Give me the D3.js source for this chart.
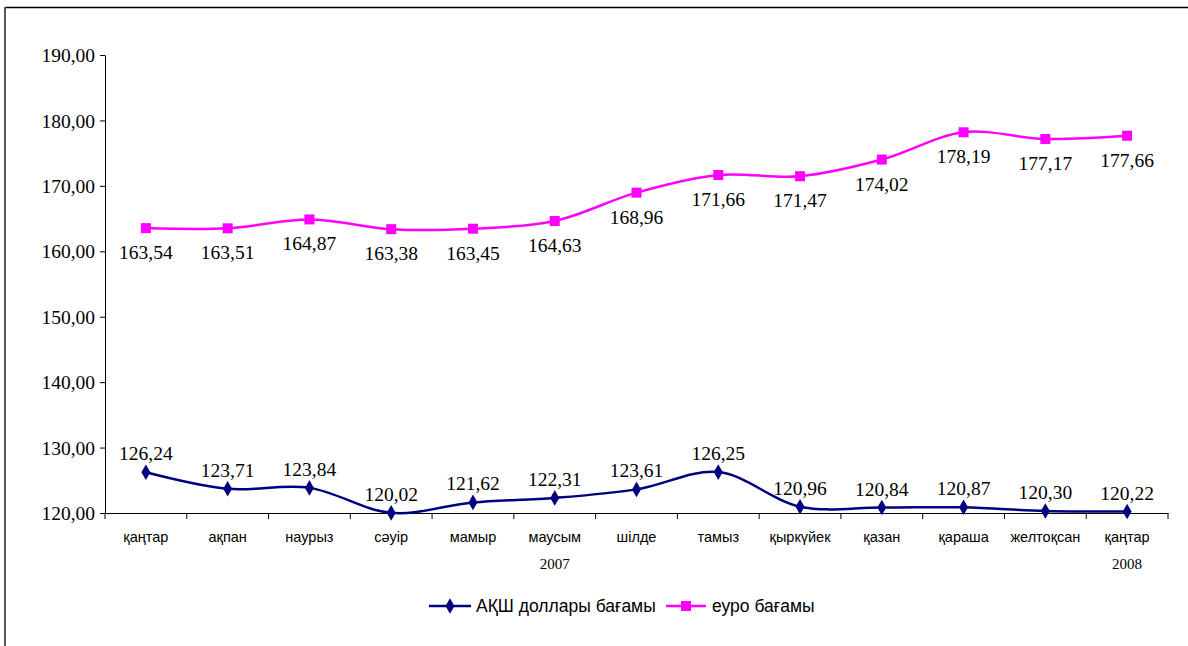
<!DOCTYPE html>
<html><head><meta charset="utf-8">
<script src="https://cdn.jsdelivr.net/npm/d3@7"></script>
<style>body{margin:0;background:#fff}svg{display:block}
.serif{font-family:"Liberation Serif","Times New Roman","DejaVu Serif",serif}
.sans{font-family:"Liberation Sans",Arial,sans-serif}
</style>
</head><body>
<svg id="c" width="1188" height="646"></svg>
<script>
const categories = ["қаңтар","ақпан","наурыз","сәуір","мамыр","маусым","шілде","тамыз","қыркүйек","қазан","қараша","желтоқсан","қаңтар"];
const usdValues = [126.24,123.71,123.84,120.02,121.62,122.31,123.61,126.25,120.96,120.84,120.87,120.30,120.22];
const eurValues = [163.54,163.51,164.87,163.38,163.45,164.63,168.96,171.66,171.47,174.02,178.19,177.17,177.66];
const yTicks = [120,130,140,150,160,170,180,190];
const yearLabels = [{idx:5, text:"2007"},{idx:12, text:"2008"}];
const seriesNames = ["АҚШ доллары бағамы","еуро бағамы"];

const svg = d3.select("#c");
// frame
svg.append("line").attr("x1",5).attr("x2",1188).attr("y1",7.5).attr("y2",7.5).attr("stroke","#000").attr("stroke-width",1.5);
svg.append("line").attr("x1",5).attr("x2",5).attr("y1",7).attr("y2",646).attr("stroke","#555").attr("stroke-width",2);

const x = d3.scaleBand().domain(d3.range(categories.length)).range([105,1168]);
const y = d3.scaleLinear().domain([120,190]).range([513,55]);
const fmt = v => v.toFixed(2).replace(".",",");

// y axis
const yAxis = svg.append("g").attr("transform","translate(105,0)")
  .call(d3.axisLeft(y).tickValues(yTicks).tickSize(5).tickSizeOuter(0).tickFormat(fmt));
yAxis.attr("font-family",null).attr("font-size",null);
yAxis.select(".domain").attr("stroke","#000");
yAxis.selectAll("line").attr("stroke","#000");
yAxis.selectAll("text").attr("class","serif").style("font-size","19.5px").attr("fill","#000").attr("dx",-2).attr("dy","0.34em");

// x axis
const xAxis = svg.append("g").attr("transform","translate(0,513)")
  .call(d3.axisBottom(x).tickSize(0).tickFormat(i=>categories[i]));
xAxis.attr("font-family",null).attr("font-size",null);
xAxis.select(".domain").attr("stroke","#000");
xAxis.selectAll("text").attr("class","sans").style("font-size","14.5px").attr("fill","#000").attr("dy","1.8em");
const bounds = d3.range(categories.length+1).map(i => i<categories.length ? x(i) : x.range()[1]);
svg.append("g").selectAll("line").data(bounds).join("line")
  .attr("x1",d=>d).attr("x2",d=>d).attr("y1",513).attr("y2",519).attr("stroke","#000");
svg.append("g").selectAll("text").data(yearLabels).join("text")
  .attr("x",d=>x(d.idx)+x.bandwidth()/2).attr("y",569)
  .attr("text-anchor","middle").attr("class","serif").style("font-size","15px")
  .text(d=>d.text);

const cx = i => x(i)+x.bandwidth()/2;
const line = d3.line().x((d,i)=>cx(i)).y(d=>y(d)).curve(d3.curveCatmullRom.alpha(0.5));

// euro
svg.append("path").attr("d",line(eurValues)).attr("fill","none").attr("stroke","#ff00ff").attr("stroke-width",2.5);
svg.append("g").selectAll("rect").data(eurValues).join("rect")
  .attr("x",(d,i)=>cx(i)-5).attr("y",d=>y(d)-5).attr("width",10).attr("height",10).attr("fill","#ff00ff");
svg.append("g").selectAll("text").data(eurValues).join("text")
  .attr("x",(d,i)=>cx(i)).attr("y",d=>y(d)+31)
  .attr("text-anchor","middle").attr("class","serif").style("font-size","19.5px")
  .text(fmt);

// usd
svg.append("path").attr("d",line(usdValues)).attr("fill","none").attr("stroke","#000080").attr("stroke-width",2.5);
svg.append("g").selectAll("path.m").data(usdValues).join("path").attr("class","m")
  .attr("d",d3.symbol(d3.symbolDiamond,70)).attr("transform",(d,i)=>`translate(${cx(i)},${y(d)})`).attr("fill","#000080");
svg.append("g").selectAll("text").data(usdValues).join("text")
  .attr("x",(d,i)=>cx(i)).attr("y",d=>y(d)-12)
  .attr("text-anchor","middle").attr("class","serif").style("font-size","19.5px")
  .text(fmt);

// legend
const lg = svg.append("g").attr("class","sans").style("font-size","17.5px");
lg.append("line").attr("x1",429).attr("x2",471).attr("y1",606).attr("y2",606).attr("stroke","#000080").attr("stroke-width",2.5);
lg.append("path").attr("d",d3.symbol(d3.symbolDiamond,70)).attr("transform","translate(450,606)").attr("fill","#000080");
lg.append("text").attr("x",476).attr("y",612).text(seriesNames[0]);
lg.append("line").attr("x1",666).attr("x2",706).attr("y1",606).attr("y2",606).attr("stroke","#ff00ff").attr("stroke-width",2.5);
lg.append("rect").attr("x",681).attr("y",601).attr("width",10).attr("height",10).attr("fill","#ff00ff");
lg.append("text").attr("x",712).attr("y",612).text(seriesNames[1]);
</script>
</body></html>
